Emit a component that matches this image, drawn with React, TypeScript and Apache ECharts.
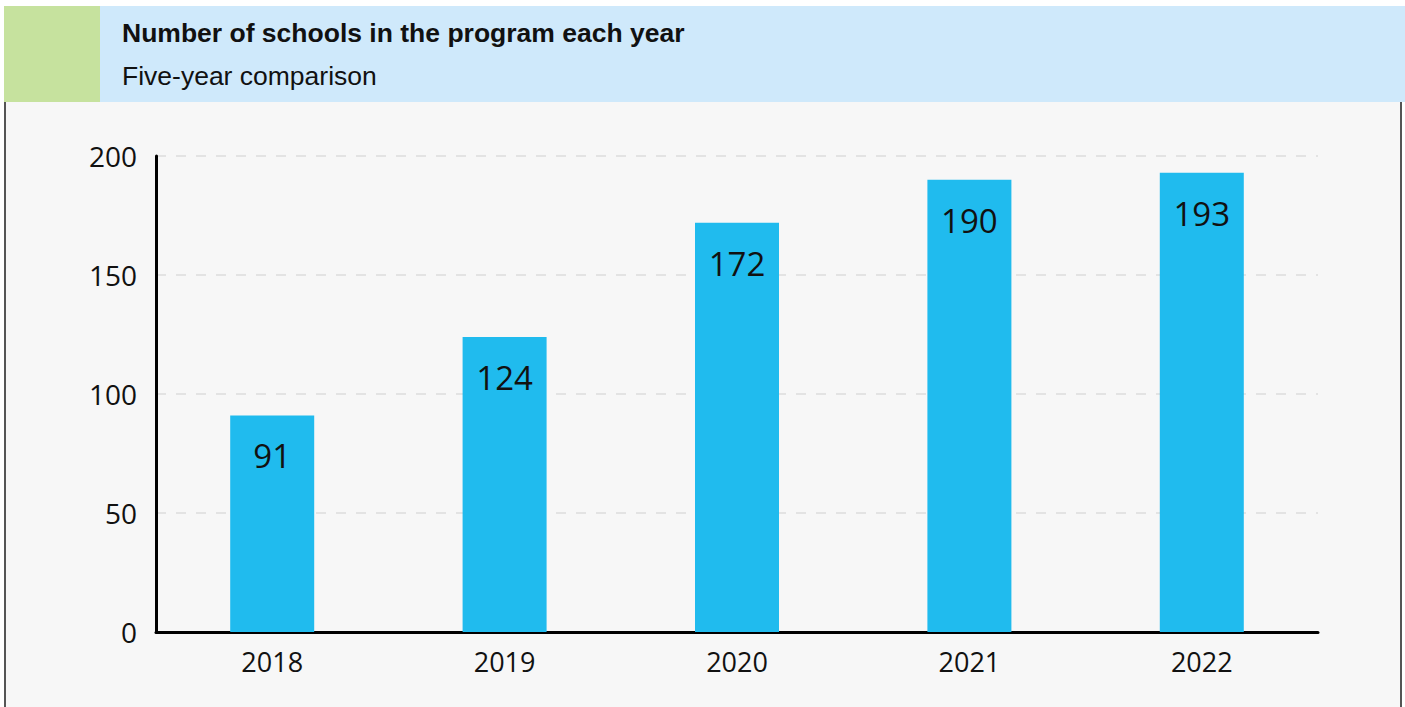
import React, { useEffect, useRef } from "react";
import * as echarts from "echarts";

const years = ["2018", "2019", "2020", "2021", "2022"];
const schools = [91, 124, 172, 190, 193];
const yTicks = [0, 50, 100, 150, 200];
const titleText = "Number of schools in the program each year";
const subtitleText = "Five-year comparison";

export default function App() {
  const ref = useRef<HTMLDivElement>(null);
  useEffect(() => {
    document.body.style.margin = "0";
    const chart = echarts.init(ref.current!, undefined, { renderer: "svg" });
    chart.setOption({
      animation: false,
      backgroundColor: "#ffffff",
      graphic: [
        { type: "rect", shape: { x: 4, y: 102, width: 1398, height: 605 }, style: { fill: "#f7f7f7" }, z: -10 },
        { type: "rect", shape: { x: 4, y: 102, width: 2, height: 605 }, style: { fill: "#555555" } },
        { type: "rect", shape: { x: 1400, y: 102, width: 2, height: 605 }, style: { fill: "#555555" } },
        { type: "rect", shape: { x: 4, y: 6, width: 96, height: 96 }, style: { fill: "#c6e29e" } },
        { type: "rect", shape: { x: 100, y: 6, width: 1305, height: 96 }, style: { fill: "#cfe9fb" } },
        {
          type: "text", x: 122, y: 33,
          style: { text: titleText, font: "bold 26.5px 'Liberation Sans', Arial, sans-serif", fill: "#111", verticalAlign: "middle" },
        },
        {
          type: "text", x: 122, y: 76,
          style: { text: subtitleText, font: "26.5px 'Liberation Sans', Arial, sans-serif", fill: "#111", verticalAlign: "middle" },
        },
      ],
      grid: { left: 156, right: 87, top: 156, bottom: 75 },
      xAxis: {
        type: "category",
        data: years,
        axisLine: { lineStyle: { color: "#000", width: 3 } },
        axisTick: { show: false },
        axisLabel: { color: "#111", fontSize: 27, fontFamily: "'Open Sans', sans-serif", margin: 16 },
      },
      yAxis: {
        type: "value",
        min: yTicks[0],
        max: yTicks[yTicks.length - 1],
        interval: 50,
        axisLine: { show: true, lineStyle: { color: "#000", width: 3 } },
        axisTick: { show: false },
        axisLabel: { color: "#111", fontSize: 28, fontFamily: "'Open Sans', sans-serif", margin: 19 },
        splitLine: { lineStyle: { color: "#dddddd", type: [10, 10], width: 1.5 } },
      },
      series: [
        {
          type: "bar",
          data: schools,
          barWidth: 84,
          itemStyle: { color: "#20bbee" },
          label: {
            show: true,
            position: "insideTop",
            distance: 24,
            color: "#111",
            fontSize: 33,
            fontFamily: "'Open Sans', sans-serif",
          },
        },
      ],
    });
    return () => chart.dispose();
  }, []);
  return <div ref={ref} style={{ width: 1405, height: 707 }} />;
}
